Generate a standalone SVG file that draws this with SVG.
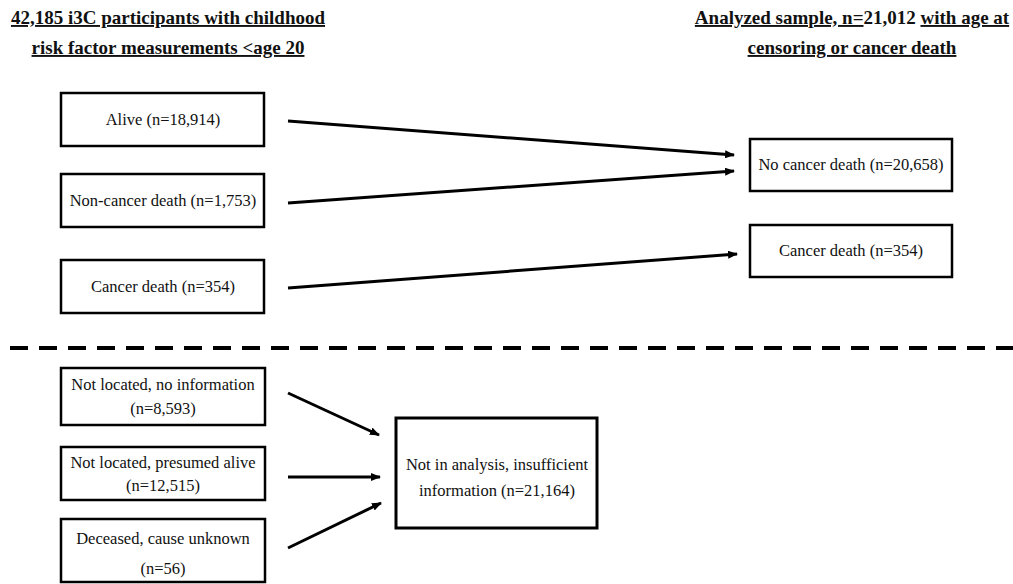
<svg xmlns="http://www.w3.org/2000/svg" width="1013" height="584" viewBox="0 0 1013 584">
<defs>
<marker id="ah" markerWidth="10" markerHeight="8" refX="9" refY="4" orient="auto" markerUnits="userSpaceOnUse">
<path d="M0,0 L10,4 L0,8 Z" fill="#000"/>
</marker>
<style>
.box{fill:#fff;stroke:#000;stroke-width:2.5}
.t{font-family:"Liberation Serif","Times New Roman",serif;font-size:16.5px;fill:#111;text-anchor:middle}
.h{font-family:"Liberation Serif","Times New Roman",serif;font-size:19px;font-weight:bold;fill:#111}
.c{stroke:#000;stroke-width:3;fill:none;marker-end:url(#ah)}
</style>
</defs>
<rect width="1013" height="584" fill="#fff"/>
<g id="title-left">
<text class="h" x="168" y="24" text-anchor="middle" text-decoration="underline">42,185 i3C participants with childhood</text>
<text class="h" x="168" y="54" text-anchor="middle" text-decoration="underline">risk factor measurements &lt;age 20</text>
</g>
<g id="title-right">
<text class="h" x="852" y="24" text-anchor="middle"><tspan text-decoration="underline">Analyzed sample, n=</tspan>21,012 <tspan text-decoration="underline">with age at</tspan></text>
<text class="h" x="852" y="54" text-anchor="middle" text-decoration="underline">censoring or cancer death</text>
</g>
<g id="alive"><rect class="box" x="61" y="93" width="203" height="53"/><text class="t" x="163" y="125">Alive (n=18,914)</text></g>
<g id="noncancer"><rect class="box" x="61" y="174" width="203" height="53"/><text class="t" x="163" y="206">Non-cancer death (n=1,753)</text></g>
<g id="cancer"><rect class="box" x="61" y="260" width="203" height="53"/><text class="t" x="163" y="292">Cancer death (n=354)</text></g>
<g id="nocancerdeath"><rect class="box" x="750" y="139" width="202" height="52"/><text class="t" x="851" y="170">No cancer death (n=20,658)</text></g>
<g id="cancerdeath"><rect class="box" x="750" y="225" width="202" height="52"/><text class="t" x="851" y="256">Cancer death (n=354)</text></g>
<g id="notlocated"><rect class="box" x="61" y="368" width="204" height="57"/><text class="t" x="163" y="390">Not located, no information</text><text class="t" x="163" y="414">(n=8,593)</text></g>
<g id="presumed"><rect class="box" x="61" y="447" width="204" height="53"/><text class="t" x="163" y="468">Not located, presumed alive</text><text class="t" x="163" y="491">(n=12,515)</text></g>
<g id="deceased"><rect class="box" x="61" y="519" width="204" height="63"/><text class="t" x="163" y="544">Deceased, cause unknown</text><text class="t" x="163" y="574">(n=56)</text></g>
<g id="notinanalysis"><rect class="box" x="396" y="418" width="201" height="110" style="stroke-width:3"/><text class="t" x="497" y="470">Not in analysis, insufficient</text><text class="t" x="497" y="496">information (n=21,164)</text></g>
<g id="connectors">
<line class="c" x1="288" y1="121" x2="734" y2="155"/>
<line class="c" x1="288" y1="203" x2="734" y2="171"/>
<line class="c" x1="288" y1="288" x2="737" y2="254"/>
<line class="c" x1="288" y1="393" x2="379" y2="435"/>
<line class="c" x1="288" y1="477" x2="380" y2="477"/>
<line class="c" x1="288" y1="548" x2="381" y2="503"/>
<line x1="10" y1="348" x2="1013" y2="348" stroke="#000" stroke-width="4" stroke-dasharray="18 11"/>
</g>
</svg>
